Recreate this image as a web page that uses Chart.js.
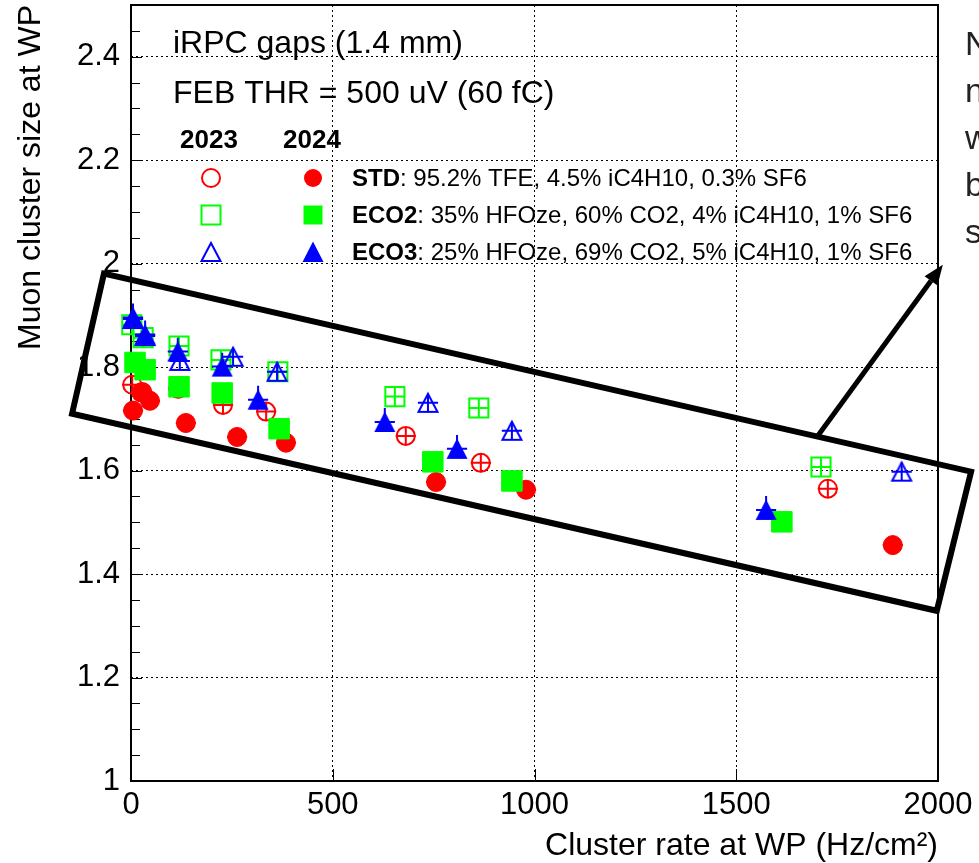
<!DOCTYPE html>
<html>
<head>
<meta charset="utf-8">
<script src="https://cdn.jsdelivr.net/npm/chart.js@4.4.0/dist/chart.umd.min.js"></script>
<style>
  html, body { margin: 0; padding: 0; background: #fff; }
  #wrap { width: 979px; height: 863px; }
</style>
</head>
<body>
<div id="wrap"><canvas id="myChart" width="979" height="863"></canvas></div>
<script>
const FONT = '"Liberation Sans", Arial, Helvetica, sans-serif';

// Axis ticks
const xTicks = [0, 500, 1000, 1500, 2000];
const yTicks = [1, 1.2, 1.4, 1.6, 1.8, 2, 2.2, 2.4];

// STD: 2023 (open) and 2024 (filled)
const stdRate2023 = [3, 28, 117, 228, 335, 681, 867, 1727];
const stdSize2023 = [1.766, 1.752, 1.758, 1.727, 1.714, 1.667, 1.615, 1.565];
const stdRate2024 = [5, 25, 47, 136, 263, 384, 756, 979, 1888];
const stdSize2024 = [1.716, 1.751, 1.735, 1.692, 1.665, 1.654, 1.578, 1.563, 1.456];

// ECO2
const eco2Rate2023 = [2, 30, 119, 223, 364, 654, 862, 1710];
const eco2Size2023 = [1.882, 1.857, 1.841, 1.814, 1.791, 1.743, 1.721, 1.607];
const eco2Rate2024 = [10, 35, 119, 226, 367, 748, 944, 1613];
const eco2Size2024 = [1.809, 1.795, 1.762, 1.750, 1.681, 1.617, 1.580, 1.501];

// ECO3
const eco3Rate2023 = [5, 35, 121, 253, 362, 736, 944, 1910];
const eco3Size2023 = [1.893, 1.860, 1.812, 1.820, 1.791, 1.731, 1.677, 1.598];
const eco3Rate2024 = [5, 35, 116, 226, 315, 629, 808, 1574];
const eco3Size2024 = [1.896, 1.863, 1.830, 1.801, 1.737, 1.694, 1.642, 1.524];

// error bars (half widths)
const ERR_X = 25;
const ERR_Y = 0.018;
const ERR_Y_TRI_UP = 0.027;

// highlight box and arrow, in data units
const boxRate = [-67, -146, 1997, 2082];
const boxSize = [1.981, 1.710, 1.329, 1.598];
const arrowRate = [1700, 2012];
const arrowSize = [1.665, 1.998];

const legendRows = [
  { bold: 'STD', text: ': 95.2% TFE, 4.5% iC4H10, 0.3% SF6', color: '#ff0000', style: 'circle' },
  { bold: 'ECO2', text: ': 35% HFOze, 60% CO2, 4% iC4H10, 1% SF6', color: '#00ff00', style: 'rect' },
  { bold: 'ECO3', text: ': 25% HFOze, 69% CO2, 5% iC4H10, 1% SF6', color: '#0000ff', style: 'triangle' }
];
const sideLetters = ['N', 'n', 'w', 'b', 's'];

// ROOT-like triangle (bounding box centred on the point)
function makeTriangle(color, filled) {
  const c = document.createElement('canvas');
  c.width = 24;
  c.height = 24;
  const g = c.getContext('2d');
  g.beginPath();
  if (filled) {
    g.moveTo(12, 1.5);
    g.lineTo(22.5, 22);
    g.lineTo(1.5, 22);
    g.closePath();
    g.fillStyle = color;
    g.fill();
  } else {
    g.moveTo(12, 3);
    g.lineTo(21.5, 21);
    g.lineTo(2.5, 21);
    g.closePath();
    g.strokeStyle = color;
    g.lineWidth = 2;
    g.stroke();
  }
  return c;
}
const triFilled = makeTriangle('#0000ff', true);
const triOpen = makeTriangle('#0000ff', false);

function series(label, xs, ys, color, style, filled, radius, errUp, errDown) {
  return {
    label: label,
    data: xs.map((v, i) => ({ x: v, y: ys[i] })),
    pointStyle: style,
    pointRadius: radius,
    pointHoverRadius: radius,
    pointBackgroundColor: filled ? color : 'rgba(0,0,0,0)',
    pointBorderColor: color,
    pointBorderWidth: filled ? 1 : 2,
    borderColor: color,
    showLine: false,
    clip: false,
    errUp: errUp,
    errDown: errDown
  };
}

// marker drawn by hand for the legend
function drawMarker(ctx, style, x, y, color, filled) {
  ctx.save();
  if (style === 'triangle') {
    const img = filled ? triFilled : triOpen;
    ctx.drawImage(img, x - img.width / 2, y - img.height / 2);
    ctx.restore();
    return;
  }
  ctx.beginPath();
  if (style === 'circle') {
    ctx.arc(x, y, 9, 0, Math.PI * 2);
  } else {
    ctx.rect(x - 9.5, y - 9.5, 19, 19);
  }
  if (filled) {
    ctx.fillStyle = color;
    ctx.fill();
  } else {
    ctx.strokeStyle = color;
    ctx.lineWidth = 2;
    ctx.stroke();
  }
  ctx.restore();
}

const rootStyle = {
  id: 'rootStyle',
  beforeDatasetsDraw(chart) {
    const { ctx, chartArea: a, scales: { x, y } } = chart;
    ctx.save();
    ctx.strokeStyle = '#000';
    ctx.lineWidth = 1;
    ctx.beginPath();
    // y ticks, inside the frame
    for (let i = 0; i <= 30; i++) {
      const py = Math.round(y.getPixelForValue(1 + i * 0.05)) + 0.5;
      const len = i % 4 === 0 ? 11 : 9;
      ctx.moveTo(a.left, py);
      ctx.lineTo(a.left + len, py);
    }
    xTicks.forEach(v => {
      const px = Math.round(x.getPixelForValue(v)) + 0.5;
      ctx.moveTo(px, a.bottom);
      ctx.lineTo(px, a.bottom - 12);
    });
    ctx.stroke();
    ctx.lineWidth = 2;
    ctx.strokeRect(a.left, a.top, a.right - a.left, a.bottom - a.top);
    ctx.restore();
  },
  beforeDatasetDraw(chart, args) {
    const ds = chart.data.datasets[args.index];
    const { ctx, scales: { x, y } } = chart;
    ctx.save();
    ctx.strokeStyle = ds.borderColor;
    ctx.lineWidth = 2;
    ctx.beginPath();
    ds.data.forEach(p => {
      const px = x.getPixelForValue(p.x);
      const py = y.getPixelForValue(p.y);
      ctx.moveTo(x.getPixelForValue(p.x - ERR_X), py);
      ctx.lineTo(x.getPixelForValue(p.x + ERR_X), py);
      ctx.moveTo(px, y.getPixelForValue(p.y - ds.errDown));
      ctx.lineTo(px, y.getPixelForValue(p.y + ds.errUp));
    });
    ctx.stroke();
    ctx.restore();
  },
  afterDraw(chart) {
    const { ctx, scales: { x, y } } = chart;
    ctx.save();

    // texts in the frame
    ctx.fillStyle = '#000';
    ctx.textBaseline = 'alphabetic';
    ctx.font = '32px ' + FONT;
    ctx.fillText('iRPC gaps (1.4 mm)', 173, 53);
    ctx.fillText('FEB THR = 500 uV (60 fC)', 173, 103);
    ctx.font = 'bold 26px ' + FONT;
    ctx.fillText('2023', 180, 148);
    ctx.fillText('2024', 283, 148);

    legendRows.forEach((row, i) => {
      const cy = 178 + i * 37;
      drawMarker(ctx, row.style, 211, cy, row.color, false);
      drawMarker(ctx, row.style, 313, cy, row.color, true);
      ctx.fillStyle = '#000';
      ctx.font = 'bold 24px ' + FONT;
      ctx.fillText(row.bold, 352, cy + 8);
      const w = ctx.measureText(row.bold).width;
      ctx.font = '24px ' + FONT;
      ctx.fillText(row.text, 352 + w, cy + 8);
    });

    // highlight box
    ctx.strokeStyle = '#000';
    ctx.lineWidth = 6;
    ctx.lineJoin = 'miter';
    ctx.beginPath();
    boxRate.forEach((v, i) => {
      const px = x.getPixelForValue(v), py = y.getPixelForValue(boxSize[i]);
      if (i === 0) ctx.moveTo(px, py); else ctx.lineTo(px, py);
    });
    ctx.closePath();
    ctx.stroke();

    // arrow
    const x0 = x.getPixelForValue(arrowRate[0]), y0 = y.getPixelForValue(arrowSize[0]);
    const x1 = x.getPixelForValue(arrowRate[1]), y1 = y.getPixelForValue(arrowSize[1]);
    const ang = Math.atan2(y1 - y0, x1 - x0);
    const head = 20, half = 8;
    const bx = x1 - head * Math.cos(ang), by = y1 - head * Math.sin(ang);
    ctx.lineWidth = 5;
    ctx.beginPath();
    ctx.moveTo(x0, y0);
    ctx.lineTo(bx, by);
    ctx.stroke();
    ctx.fillStyle = '#000';
    ctx.beginPath();
    ctx.moveTo(x1, y1);
    ctx.lineTo(bx + half * Math.sin(ang), by - half * Math.cos(ang));
    ctx.lineTo(bx - half * Math.sin(ang), by + half * Math.cos(ang));
    ctx.closePath();
    ctx.fill();

    // clipped text from the neighbouring slide
    ctx.fillStyle = '#222';
    ctx.font = '34px ' + FONT;
    sideLetters.forEach((ch, i) => {
      ctx.fillText(ch, 965, 55 + i * 47);
    });
    ctx.restore();
  }
};

const ctx = document.getElementById('myChart').getContext('2d');
const chart = new Chart(ctx, {
  type: 'scatter',
  data: {
    datasets: [
      series('ECO3 2024', eco3Rate2024, eco3Size2024, '#0000ff', triFilled, true, 11, ERR_Y_TRI_UP, ERR_Y),
      series('ECO3 2023', eco3Rate2023, eco3Size2023, '#0000ff', triOpen, false, 11, ERR_Y, ERR_Y),
      series('ECO2 2024', eco2Rate2024, eco2Size2024, '#00ff00', 'rect', true, 14.5, ERR_Y, ERR_Y),
      series('ECO2 2023', eco2Rate2023, eco2Size2023, '#00ff00', 'rect', false, 13.5, ERR_Y, ERR_Y),
      series('STD 2024', stdRate2024, stdSize2024, '#ff0000', 'circle', true, 9.5, ERR_Y, ERR_Y),
      series('STD 2023', stdRate2023, stdSize2023, '#ff0000', 'circle', false, 9, ERR_Y, ERR_Y)
    ]
  },
  options: {
    responsive: false,
    animation: false,
    devicePixelRatio: 1,
    layout: { autoPadding: false, padding: { top: 5, right: 41, bottom: 0, left: 0 } },
    plugins: {
      legend: { display: false },
      tooltip: { enabled: false }
    },
    scales: {
      x: {
        type: 'linear',
        min: 0,
        max: 2000,
        afterBuildTicks: s => { s.ticks = xTicks.map(v => ({ value: v })); },
        afterFit: s => { s.height = 82; s.paddingLeft = 0; s.paddingRight = 0; },
        grid: { color: '#000', lineWidth: 1, drawTicks: false },
        border: { display: false, dash: [2, 3] },
        ticks: {
          color: '#000', padding: 6, maxRotation: 0, autoSkip: false,
          font: { family: FONT, size: 31 },
          callback: v => String(v)
        },
        title: {
          display: true, text: 'Cluster rate at WP (Hz/cm²)', align: 'end', color: '#000',
          font: { family: FONT, size: 32, lineHeight: 1 }, padding: { top: 0, bottom: 1 }
        }
      },
      y: {
        type: 'linear',
        min: 1,
        max: 2.5,
        afterBuildTicks: s => { s.ticks = yTicks.map(v => ({ value: v })); },
        afterFit: s => { s.width = 131; s.paddingTop = 0; s.paddingBottom = 0; },
        grid: { color: '#000', lineWidth: 1, drawTicks: false },
        border: { display: false, dash: [2, 3] },
        ticks: {
          color: '#000', padding: 11, autoSkip: false,
          font: { family: FONT, size: 31 },
          callback: v => String(Math.round(v * 10) / 10)
        },
        title: {
          display: true, text: 'Muon cluster size at WP', align: 'end', color: '#000',
          font: { family: FONT, size: 32, lineHeight: 1 }, padding: { top: 15, bottom: 0 }
        }
      }
    }
  },
  plugins: [rootStyle]
});
</script>
</body>
</html>
